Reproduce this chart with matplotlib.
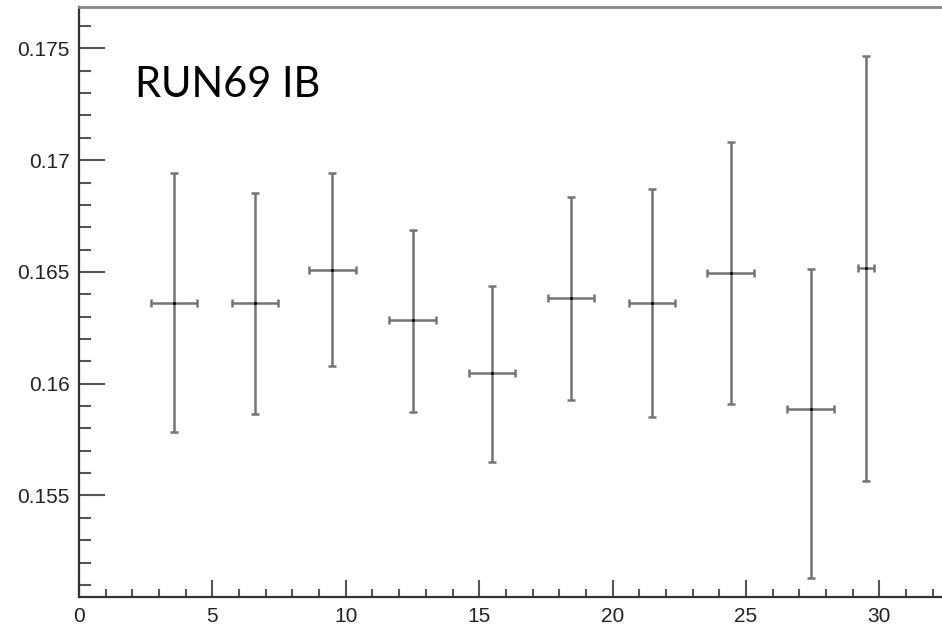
import matplotlib
matplotlib.use("Agg")
import matplotlib.pyplot as plt
import numpy as np
from matplotlib.ticker import MultipleLocator, FuncFormatter

# Data
x_centers = [3.55, 6.6, 9.5, 12.5, 15.47, 18.45, 21.47, 24.42, 27.42, 29.5]
x_err = [0.87, 0.87, 0.87, 0.87, 0.87, 0.87, 0.87, 0.87, 0.87, 0.30]
y_values = [0.16363, 0.16363, 0.16509, 0.16284, 0.16048, 0.16384, 0.16361, 0.16494, 0.15887, 0.16517]
y_low = [0.15783, 0.15866, 0.16077, 0.15873, 0.15650, 0.15929, 0.15851, 0.15909, 0.15133, 0.15565]
y_high = [0.16942, 0.16851, 0.16942, 0.16687, 0.16439, 0.16837, 0.16872, 0.17081, 0.16515, 0.17466]
title_text = "RUN69 IB"

y = np.array(y_values)
yerr = np.vstack([y - np.array(y_low), np.array(y_high) - y])

fig = plt.figure(figsize=(9.42, 6.28), dpi=100)
ax = fig.add_axes([79/942, 31/628, 1 - 79/942, (597-7)/628])

eb = ax.errorbar(x_centers, y, yerr=yerr, xerr=x_err, fmt='.', color='black',
                 markersize=2.5, ecolor='#747474', elinewidth=1.8,
                 capsize=3.2, capthick=1.8)
for cl in eb[1]:
    cl.set_color('#444444')

ax.set_xlim(0, (942-79)/26.68)
ax.set_ylim(0.15046, 0.17685)

ax.xaxis.set_major_locator(MultipleLocator(5))
ax.xaxis.set_minor_locator(MultipleLocator(1))
ax.yaxis.set_major_locator(MultipleLocator(0.005))
ax.yaxis.set_minor_locator(MultipleLocator(0.001))
ax.yaxis.set_major_formatter(FuncFormatter(lambda v, p: f"{v:g}"))
ax.xaxis.set_major_formatter(FuncFormatter(lambda v, p: f"{v:g}"))

ax.tick_params(axis='both', which='both', direction='in', color='#555555', width=1.5,
               labelcolor='#222222', labelsize=15)
ax.tick_params(axis='y', which='major', length=18.5, pad=6.5)
ax.tick_params(axis='y', which='minor', length=8.5)
ax.tick_params(axis='x', which='major', length=12, pad=7)
ax.tick_params(axis='x', which='minor', length=5.8)
for lab in ax.get_xticklabels() + ax.get_yticklabels():
    lab.set_family(['Liberation Sans', 'DejaVu Sans'])

ax.spines['right'].set_visible(False)
ax.spines['left'].set_color('#333333')
ax.spines['bottom'].set_color('#333333')
ax.spines['left'].set_linewidth(1.6)
ax.spines['bottom'].set_linewidth(1.6)
ax.spines['top'].set_color('#888888')
ax.spines['top'].set_linewidth(2)

fig.text(135/942, 1 - 97/628, title_text, fontsize=30, family=['Lato', 'DejaVu Sans'],
         color='black', ha='left', va='baseline')

fig.savefig("out.png", dpi=100)
